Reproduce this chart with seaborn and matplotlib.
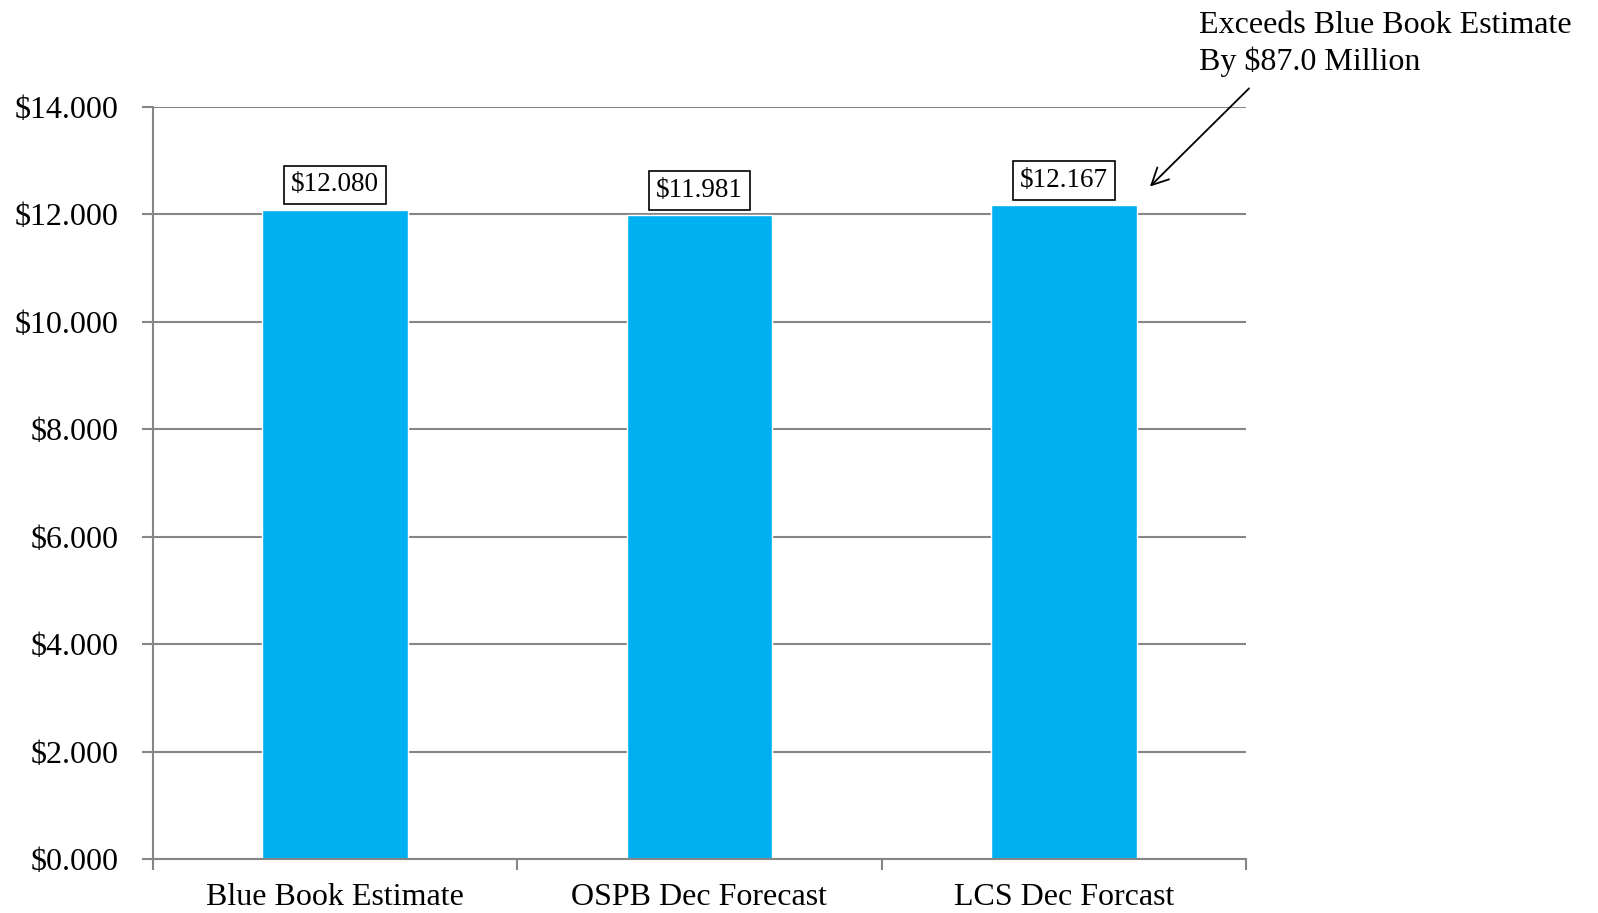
import matplotlib
matplotlib.use("Agg")
import matplotlib.pyplot as plt
import pandas as pd
import seaborn as sns
from matplotlib.ticker import FuncFormatter, MultipleLocator


CATEGORIES = ["Blue Book Estimate", "OSPB Dec Forecast", "LCS Dec Forcast"]
VALUES = [12.080, 11.981, 12.167]
NOTE = "Exceeds Blue Book Estimate\nBy $87.0 Million"
BAR_COLOR = "#00B0F0"
GRID_COLOR = "#868686"


def main() -> None:
    sns.set_theme(style="white")
    plt.rcParams["font.family"] = ["Liberation Serif", "DejaVu Serif"]
    plt.rcParams["text.color"] = "black"

    data = pd.DataFrame({"category": CATEGORIES, "value": VALUES})

    fig = plt.figure(figsize=(15.98, 9.13), dpi=100)
    ax = fig.add_axes([0.0957, 0.059, 0.684, 0.824])
    sns.barplot(data=data, x="category", y="value", color=BAR_COLOR, saturation=1,
                width=0.4, ax=ax)

    ax.set_xlim(-0.5, 2.5)
    ax.set_ylim(0, 14)
    ax.yaxis.set_major_locator(MultipleLocator(2))
    ax.yaxis.set_major_formatter(FuncFormatter(lambda v, _: f"${v:.3f}"))
    ax.grid(axis="y", color=GRID_COLOR, linewidth=1.5)
    ax.set_axisbelow(True)
    ax.set_xlabel("")
    ax.set_ylabel("")

    for side in ["top", "right"]:
        ax.spines[side].set_visible(False)
    for side in ["left", "bottom"]:
        ax.spines[side].set_color(GRID_COLOR)
        ax.spines[side].set_linewidth(1.5)

    ax.set_xticks([-0.5, 0.5, 1.5, 2.5], minor=True)
    ax.tick_params(axis="x", which="major", length=0, labelsize=23, pad=17, colors="black")
    ax.tick_params(axis="x", which="minor", length=8, width=1.5, color=GRID_COLOR)
    ax.tick_params(axis="y", which="major", length=8, width=1.5, color=GRID_COLOR,
                   labelsize=23, pad=17, labelcolor="black")
    ax.tick_params(axis="both", direction="out", left=True, bottom=True)
    ax.tick_params(axis="x", which="minor", bottom=True)

    for i, value in enumerate(VALUES):
        ax.annotate(f"${value:.3f}", xy=(i, value), xytext=(0, 9), textcoords="offset points",
                    ha="center", va="bottom", fontsize=19.5,
                    bbox=dict(boxstyle="square,pad=0.25", facecolor="white",
                              edgecolor="black", linewidth=1.2))

    ax.annotate("", xy=(2.231, 12.48), xytext=(2.514, 14.38), annotation_clip=False,
                arrowprops=dict(arrowstyle="->", color="black", linewidth=1.3,
                                mutation_scale=30))
    ax.text(2.371, 15.78, NOTE, ha="left", va="top", fontsize=23, linespacing=1.25,
            clip_on=False)

    fig.savefig("out.png", dpi=100)
    plt.close(fig)


if __name__ == "__main__":
    main()
